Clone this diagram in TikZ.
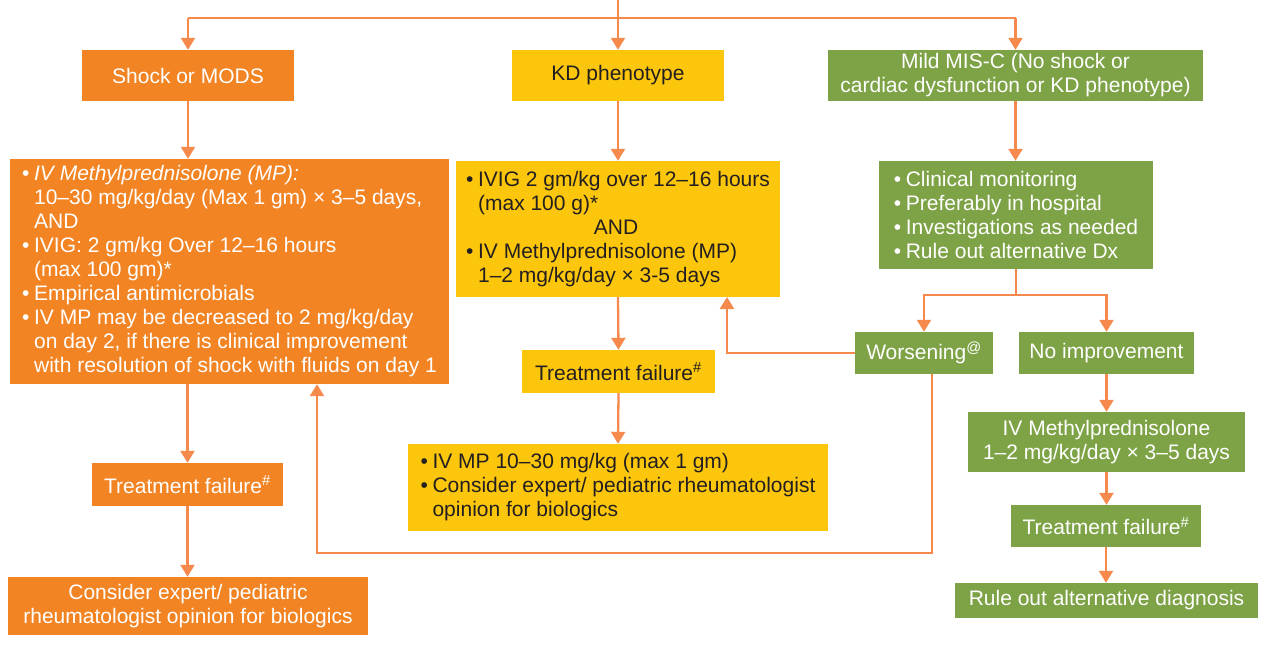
\documentclass[tikz,border=0pt]{standalone}
\usepackage{fontspec}
\setmainfont{Liberation Sans}
\usetikzlibrary{arrows.meta}
\definecolor{corange}{HTML}{F28424}
\definecolor{cyellow}{HTML}{FCC60C}
\definecolor{cgreen}{HTML}{7EA346}
\definecolor{cline}{HTML}{F58A4C}
\definecolor{cdark}{HTML}{231F20}
\newcommand{\bul}{\makebox[12pt][l]{•}}
\newcommand{\ind}{\hspace*{12pt}}
\begin{document}
\begin{tikzpicture}[x=1pt,y=-1pt,
  box/.style={rectangle, inner sep=0pt, font=\fontsize{21}{24}\selectfont, align=center},
  orb/.style={box, fill=corange, text=white},
  yeb/.style={box, fill=cyellow, text=cdark},
  grb/.style={box, fill=cgreen, text=white},
  conn/.style={draw=cline, line width=2.3pt},
  arr/.style={conn, -{Triangle[length=12pt,width=14pt]}}
]
\useasboundingbox (0,0) rectangle (1262,645);

% top row
\node[orb, minimum width=212pt, minimum height=51pt] (shock) at (188,75.5) {Shock or MODS};
\node[yeb, minimum width=212pt, minimum height=51pt] (kd) at (618,75.5) {KD phenotype};
\node[grb, minimum width=375pt, minimum height=51pt] (mild) at (1015.5,75.5) {Mild MIS-C (No shock or\\cardiac dysfunction or KD phenotype)};

% detail boxes
\node[orb, minimum width=439pt, minimum height=225pt, align=left] (shockd) at (229.5,271.5) {%
\bul\textit{IV Methylprednisolone (MP):}\\
\ind 10–30 mg/kg/day (Max 1 gm) × 3–5 days,\\
\ind AND\\
\bul IVIG: 2 gm/kg Over 12–16 hours\\
\ind (max 100 gm)*\\
\bul Empirical antimicrobials\\
\bul IV MP may be decreased to 2 mg/kg/day\\
\ind on day 2, if there is clinical improvement\\
\ind with resolution of shock with fluids on day 1};

\node[yeb, minimum width=324pt, minimum height=136pt, align=left] (kdd) at (618,229) {%
\bul IVIG 2 gm/kg over 12–16 hours\\
\ind (max 100 g)*\\
\makebox[300pt]{AND}\\
\bul IV Methylprednisolone (MP)\\
\ind 1–2 mg/kg/day × 3-5 days};

\node[grb, minimum width=274pt, minimum height=108pt, align=left] (mildd) at (1016,215) {%
\bul Clinical monitoring\\
\bul Preferably in hospital\\
\bul Investigations as needed\\
\bul Rule out alternative Dx};

\node[grb, minimum width=138pt, minimum height=42pt] (wors) at (924,353) {Worsening\textsuperscript{@}};
\node[grb, minimum width=175pt, minimum height=42pt] (noimp) at (1106.5,353) {No improvement};

\node[yeb, minimum width=193pt, minimum height=43pt] (kdtf) at (618.5,371.5) {Treatment failure\textsuperscript{\#}};
\node[yeb, minimum width=420pt, minimum height=87pt, align=left] (kdbio) at (618,487.5) {%
\bul IV MP 10–30 mg/kg (max 1 gm)\\
\bul Consider expert/ pediatric rheumatologist\\
\ind opinion for biologics};

\node[orb, minimum width=191pt, minimum height=43pt] (shtf) at (187.5,484.5) {Treatment failure\textsuperscript{\#}};
\node[orb, minimum width=360pt, minimum height=58pt] (shcons) at (188,606) {Consider expert/ pediatric\\rheumatologist opinion for biologics};

\node[grb, minimum width=277pt, minimum height=60pt] (ivmp) at (1106.5,442) {IV Methylprednisolone\\1–2 mg/kg/day × 3–5 days};
\node[grb, minimum width=190pt, minimum height=42pt] (grtf) at (1106,526) {Treatment failure\textsuperscript{\#}};
\node[grb, minimum width=303pt, minimum height=35pt] (rule) at (1106.5,600.5) {Rule out alternative diagnosis};

% connectors
\coordinate (top) at (618,0);
\coordinate (split) at (618,18);
\draw[conn] (top) -- (split);
\draw[conn] (shock.north |- split) -- (mild.north |- split);
\draw[arr] (shock.north |- split) -- (shock.north);
\draw[arr] (split) -- (kd.north);
\draw[arr] (mild.north |- split) -- (mild.north);

\draw[arr] (shock.south) -- (shock.south |- shockd.north);
\draw[arr] (kd.south) -- (kdd.north);
\draw[arr] (mild.south) -- (mild.south |- mildd.north);

\coordinate (msplit) at (1016,295);
\draw[conn] (mildd.south) -- (msplit);
\draw[arr] (msplit) -| (wors.north);
\draw[arr] (msplit) -| (noimp.north);

\coordinate (kx) at (727,297);
\draw[arr] (wors.west) -| (kx);

\coordinate (wb) at (932,553);
\coordinate (sb) at (317,553);
\draw[arr] (wors.south -| wb) -- (wb) -- (sb) -- (shockd.south -| sb);

\draw[arr] (kdd.south) -- (kdtf.north);
\draw[arr] (kdtf.south) -- (kdbio.north);
\draw[arr] (shockd.south -| shtf.north) -- (shtf.north);
\draw[arr] (shtf.south) -- (shtf.south |- shcons.north);
\draw[arr] (noimp.south) -- (noimp.south |- ivmp.north);
\draw[arr] (ivmp.south) -- (ivmp.south |- grtf.north);
\draw[arr] (grtf.south) -- (grtf.south |- rule.north);
\end{tikzpicture}
\end{document}
